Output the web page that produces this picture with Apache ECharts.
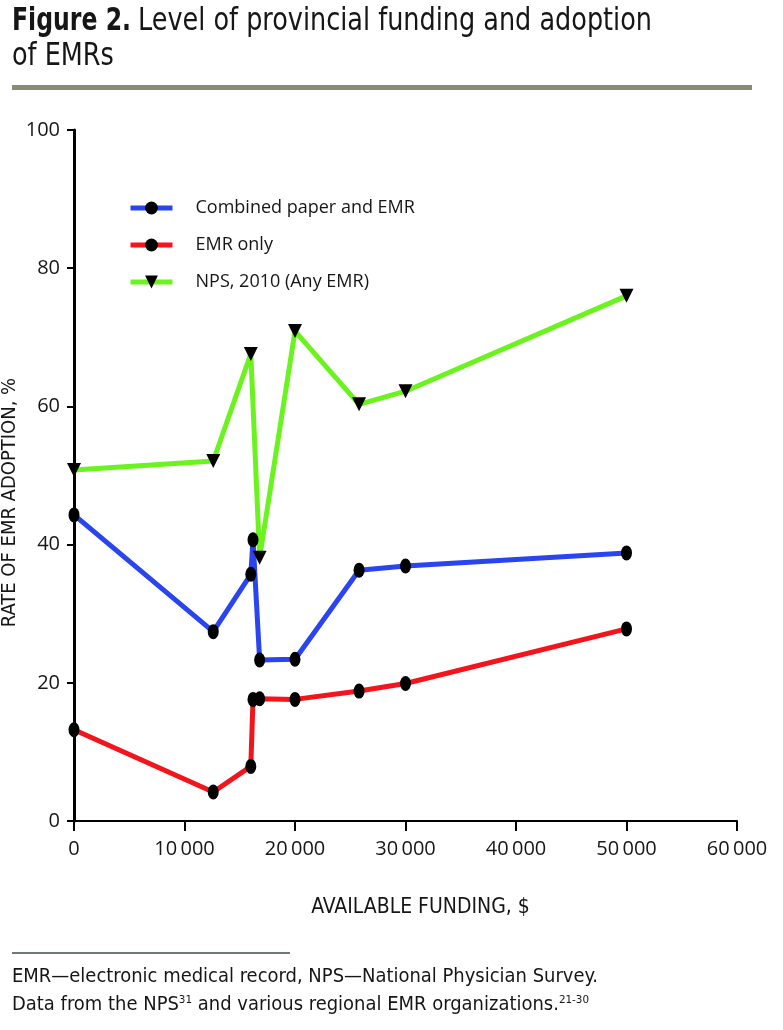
<!DOCTYPE html>
<html><head><meta charset="utf-8">
<script src="https://cdn.jsdelivr.net/npm/echarts@6/dist/echarts.min.js"></script>
<style>html,body{margin:0;padding:0;background:#fff}#c{width:783px;height:1030px}</style>
</head><body><div id="c"></div>
<script>
// ---- data ----
const funding = [0, 12600, 16000, 16200, 16800, 20000, 25800, 30000, 50000];
const combinedPaperEmr = [44.3, 27.4, 35.7, 40.7, 23.3, 23.4, 36.3, 36.9, 38.8];
const emrOnly = [13.2, 4.2, 7.9, 17.6, 17.7, 17.6, 18.8, 19.9, 27.8];
const npsFunding = [0, 12600, 16000, 16800, 20000, 25800, 30000, 50000];
const nps2010 = [50.8, 52.1, 67.6, 38.1, 70.9, 60.3, 62.2, 76.0];
const seriesNames = ['Combined paper and EMR', 'EMR only', 'NPS, 2010 (Any EMR)'];
const xTickLabels = ['0', '10\u2009000', '20\u2009000', '30\u2009000', '40\u2009000', '50\u2009000', '60\u2009000'];
const yTickLabels = ['0', '20', '40', '60', '80', '100'];

// ---- styling ----
const COND = '"Liberation Sans Narrow", "DejaVu Sans Condensed", "Liberation Sans", sans-serif';
const HUM = '"Open Sans", "Noto Sans", sans-serif';
const INK = '#161616';
const ctx = document.createElement('canvas').getContext('2d');
function fit(text, font, w) { ctx.font = font; return w / ctx.measureText(text).width; }

const titleBoldFont = 'bold 32px ' + COND;
const titleFont = '32px ' + COND;
const sBold = fit('Figure 2.', titleBoldFont, 119);
const sTitle = fit('Level of provincial funding and adoption', titleFont, 514);
const footFont = '19px ' + COND;
const foot1 = 'EMR\u2014electronic medical record, NPS\u2014National Physician Survey.';
const sFoot = fit(foot1, footFont, 586);

const chart = echarts.init(document.getElementById('c'), null, { renderer: 'canvas' });
const xy = (xs, ys) => xs.map((x, i) => [x, ys[i]]);

chart.setOption({
  backgroundColor: '#fff',
  animation: false,
  grid: { left: 74, right: 46, top: 130, bottom: 209, containLabel: false, outerBoundsMode: 'none' },
  legend: {
    orient: 'vertical', left: 123, top: 194,
    itemWidth: 42, itemHeight: 16, itemGap: 19,
    data: seriesNames,
    lineStyle: { width: 5 },
    textStyle: { fontFamily: HUM, fontSize: 18, color: INK, lineHeight: 16, padding: [0, 0, 0, 18] }
  },
  xAxis: {
    type: 'value', min: 0, max: 60000, interval: 10000,
    axisLine: { show: true, onZero: false, lineStyle: { color: '#000', width: 2 } },
    axisTick: { show: true, length: 10, lineStyle: { color: '#000', width: 2 } },
    splitLine: { show: false },
    axisLabel: {
      margin: 18, fontFamily: HUM, fontSize: 20, color: INK,
      formatter: v => xTickLabels[Math.round(v / 10000)]
    },
    name: 'AVAILABLE FUNDING, $', nameLocation: 'middle', nameGap: 76, nameMoveOverlap: false,
    nameTextStyle: { fontFamily: COND, fontSize: 21, color: INK, padding: [0, 0, 0, 30] }
  },
  yAxis: {
    type: 'value', min: 0, max: 100, interval: 20,
    axisLine: { show: true, lineStyle: { color: '#000', width: 3 } },
    axisTick: { show: true, length: 7, lineStyle: { color: '#000', width: 2 } },
    splitLine: { show: false },
    axisLabel: {
      margin: 14, fontFamily: HUM, fontSize: 20, color: INK,
      formatter: v => yTickLabels[Math.round(v / 20)]
    },
    name: 'RATE OF EMR ADOPTION, %', nameLocation: 'middle', nameGap: 54, nameMoveOverlap: false,
    nameTextStyle: { fontFamily: COND, fontSize: 20, color: INK, padding: [0, 54, 0, 0] }
  },
  series: [
    {
      name: seriesNames[0], type: 'line', data: xy(funding, combinedPaperEmr),
      symbol: 'circle', symbolSize: [11, 15],
      itemStyle: { color: '#000' }, lineStyle: { color: '#2a45ef', width: 5 }
    },
    {
      name: seriesNames[1], type: 'line', data: xy(funding, emrOnly),
      symbol: 'circle', symbolSize: [11, 15],
      itemStyle: { color: '#000' }, lineStyle: { color: '#f3141c', width: 5 }
    },
    {
      name: seriesNames[2], type: 'line', data: xy(npsFunding, nps2010),
      symbol: 'triangle', symbolRotate: 180, symbolSize: [14, 14],
      itemStyle: { color: '#000' }, lineStyle: { color: '#6bf320', width: 5 }
    }
  ],
  graphic: [
    { type: 'text', x: 12, y: 22, scaleX: sBold,
      style: { text: 'Figure 2.', font: titleBoldFont, fill: INK, verticalAlign: 'middle', align: 'left' } },
    { type: 'text', x: 138, y: 22, scaleX: sTitle,
      style: { text: 'Level of provincial funding and adoption', font: titleFont, fill: INK, verticalAlign: 'middle', align: 'left' } },
    { type: 'text', x: 12, y: 57, scaleX: sTitle,
      style: { text: 'of EMRs', font: titleFont, fill: INK, verticalAlign: 'middle', align: 'left' } },
    { type: 'rect', shape: { x: 12, y: 85, width: 740, height: 5 }, style: { fill: '#8a8c76' } },
    { type: 'rect', shape: { x: 12, y: 952, width: 278, height: 2 }, style: { fill: '#6e7b74' } },
    { type: 'text', x: 12, y: 977, scaleX: sFoot,
      style: { text: foot1, font: footFont, fill: INK, verticalAlign: 'middle', align: 'left' } },
    { type: 'text', x: 12, y: 1005, scaleX: sFoot,
      style: {
        text: 'Data from the NPS{sup|31} and various regional EMR organizations.{sup|21-30}',
        font: footFont, fill: INK, verticalAlign: 'middle', align: 'left',
        rich: { sup: { fontSize: 11, fontFamily: COND, padding: [0, 0, 9, 0] } }
      } }
  ]
});
</script>
</body></html>
